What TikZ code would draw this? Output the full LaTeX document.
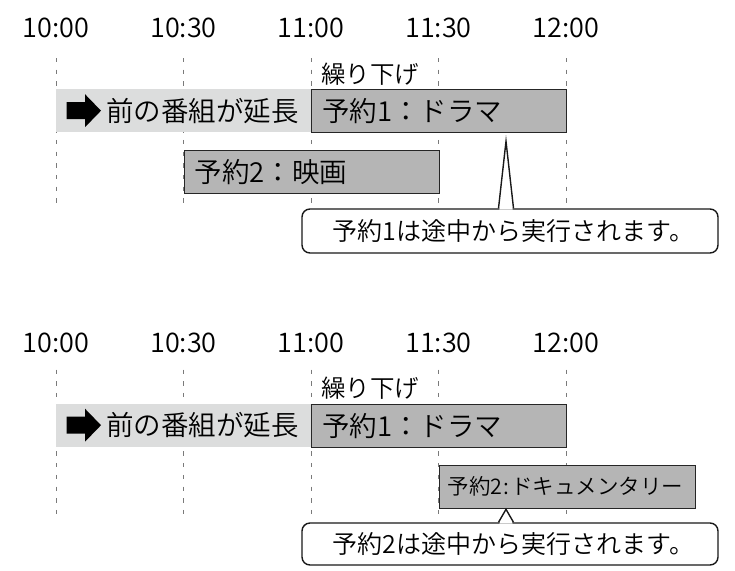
\documentclass[tikz,border=0pt]{standalone}
\usepackage{fontspec}
\setmainfont{Noto Sans CJK JP}[UprightFont=* DemiLight]
\usetikzlibrary{calc}
\definecolor{bandgray}{HTML}{DCDDDD}
\definecolor{boxgray}{HTML}{B5B5B5}
\definecolor{gridgray}{HTML}{7A7A7A}
\begin{document}
\begin{tikzpicture}[x=1pt,y=-1pt,
  timelbl/.style={font=\fontsize{27pt}{29pt}\selectfont, inner sep=0pt},
  gridline/.style={draw=gridgray, line width=0.9pt, dash pattern=on 4.3pt off 7.4pt},
  band/.style={fill=bandgray, inner sep=0pt, anchor=north west, minimum width=255pt, minimum height=43pt},
  resv/.style={fill=boxgray, draw=black!85, line width=1.3pt, inner sep=0pt, anchor=north west, minimum height=43pt},
  btext/.style={font=\fontsize{27.5pt}{29pt}\selectfont, inner sep=0pt, anchor=west},
  stext/.style={font=\fontsize{21.5pt}{23pt}\selectfont, inner sep=0pt, anchor=west},
  kuri/.style={font=\fontsize{24.5pt}{26pt}\selectfont, inner sep=0pt, anchor=west},
  callout/.style={draw=black!90, line width=1.4pt, rounded corners=8pt, fill=white, minimum width=416pt, inner sep=0pt, font=\fontsize{25pt}{27pt}\selectfont},
  pointer/.style={draw=black!90, line width=1.4pt, line join=miter},
]
\useasboundingbox (0,0) rectangle (735,570);

% ===== top scenario =====
\foreach \i/\x/\t in {a/56/10:00, b/183.5/10:30, c/311/11:00, d/438.5/11:30, e/566/12:00}{
  \node[timelbl] (ta\i) at (\x,28) {\t};
  \coordinate (gas\i) at (\x,58);
  \coordinate (gae\i) at (\x,204);
  \draw[gridline] (gas\i) -- (gae\i);
}
\node[band] (band1) at (56,89) {};
\fill ($(band1.west)+(10.5,-8.5)$) -- ++(18.5,0) -- ++(0,-8) -- ++(16,16.5) -- ++(-16,16.5) -- ++(0,-8) -- ++(-18.5,0) -- cycle;
\node[btext] (ext1) at ($(band1.west)+(50,0)$) {前の番組が延長};

\node[kuri] (kuri1) at (321,74) {繰り下げ};
\node[resv, minimum width=255pt] (r11) at (311,89) {};
\node[btext] (r11t) at ($(r11.west)+(11,0)$) {予約1：ドラマ};

\node[resv, minimum width=255pt] (r21) at (183.5,150) {};
\node[btext] (r21t) at ($(r21.west)+(11,0)$) {予約2：映画};

\node[callout, minimum height=44pt] (c1) at (510,231) {\hskip7pt予約1は途中から実行されます。};
\coordinate (p1) at ($(r11.south west)+(195,8)$);
\fill[white] ($(c1.north -| p1)+(-6.6,1.2)$) -- (p1) -- ($(c1.north -| p1)+(6.6,1.2)$) -- cycle;
\draw[pointer] ($(c1.north -| p1)+(-7.5,0)$) -- (p1) -- ($(c1.north -| p1)+(7.5,0)$);

% ===== bottom scenario =====
\foreach \i/\x/\t in {a/56/10:00, b/183.5/10:30, c/311/11:00, d/438.5/11:30, e/566/12:00}{
  \node[timelbl] (tb\i) at (\x,342.5) {\t};
  \coordinate (gbs\i) at (\x,369.5);
  \coordinate (gbe\i) at (\x,517);
  \draw[gridline] (gbs\i) -- (gbe\i);
}
\node[band] (band2) at (56,403.5) {};
\fill ($(band2.west)+(10.5,-8.5)$) -- ++(18.5,0) -- ++(0,-8) -- ++(16,16.5) -- ++(-16,16.5) -- ++(0,-8) -- ++(-18.5,0) -- cycle;
\node[btext] (ext2) at ($(band2.west)+(50,0)$) {前の番組が延長};

\node[kuri] (kuri2) at (321,388.5) {繰り下げ};
\node[resv, minimum width=255pt] (r12) at (311,403.5) {};
\node[btext] (r12t) at ($(r12.west)+(11,0)$) {予約1：ドラマ};

\node[resv, minimum width=256pt] (r22) at (438.5,464.5) {};
\node[stext] (r22t) at ($(r22.west)+(9,0)$) {予約2\kern1.5pt:\kern1.5ptドキュメンタリー};

\node[callout, minimum height=42pt] (c2) at (510,544) {\hskip7pt予約2は途中から実行されます。};
\coordinate (p2) at ($(r22.south west)+(67.5,0.5)$);
\fill[white] ($(c2.north -| p2)+(-6.6,1.2)$) -- (p2) -- ($(c2.north -| p2)+(6.6,1.2)$) -- cycle;
\draw[pointer] ($(c2.north -| p2)+(-7.5,0)$) -- (p2) -- ($(c2.north -| p2)+(7.5,0)$);
\end{tikzpicture}
\end{document}
